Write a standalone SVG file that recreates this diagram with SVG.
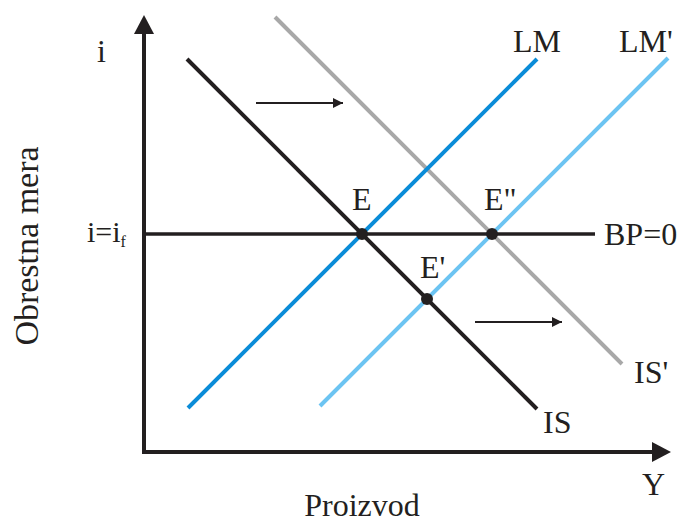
<svg xmlns="http://www.w3.org/2000/svg" width="683" height="523" viewBox="0 0 683 523">
<style>
.lbl { font-size: 32px; }
.crv { fill: none; stroke-width: 4; stroke-linecap: butt; }
.axis { stroke: #231f20; stroke-width: 4; fill: none; }
.shift { stroke: #231f20; stroke-width: 2; fill: none; }
.dot { fill: #231f20; }
</style>
<defs>
<marker id="ah" markerWidth="10" markerHeight="10" refX="10" refY="5" orient="auto" markerUnits="userSpaceOnUse">
<path d="M0,0 L10,5 L0,10 Z" fill="#231f20"/>
</marker>
</defs>
<rect width="683" height="523" fill="#ffffff"/>
<g id="connectors">
<line id="y-axis" class="axis" x1="144" y1="454" x2="144" y2="30"/>
<path d="M144,15 L134,34 L154,34 Z" fill="#231f20"/>
<line id="x-axis" class="axis" x1="142" y1="452" x2="656" y2="452"/>
<path d="M671,452 L652,442 L652,462 Z" fill="#231f20"/>
<line id="BP" x1="144" y1="234" x2="595" y2="234" stroke="#231f20" stroke-width="3.5"/>
<line id="ISp" class="crv" stroke="#a8a8a8" x1="275" y1="17" x2="622" y2="364"/>
<line id="LM" class="crv" stroke="#0a8cd8" x1="188" y1="408" x2="537" y2="59"/>
<line id="LMp" class="crv" stroke="#6cc4f2" x1="320" y1="406" x2="668" y2="58"/>
<line id="IS" class="crv" stroke="#231f20" x1="187" y1="59" x2="537" y2="409"/>
<line class="shift" x1="256" y1="103" x2="343" y2="103" marker-end="url(#ah)"/>
<line class="shift" x1="475" y1="322" x2="562" y2="322" marker-end="url(#ah)"/>
</g>
<g font-family="'Liberation Serif', 'DejaVu Serif', serif" fill="#231f20">
<g id="E"><circle class="dot" cx="362" cy="234" r="6"/><text class="lbl" x="352" y="210">E</text></g>
<g id="E2"><circle class="dot" cx="492" cy="234" r="6"/><text class="lbl" x="484" y="210">E"</text></g>
<g id="E1"><circle class="dot" cx="427" cy="299" r="6"/><text class="lbl" x="420" y="278">E'</text></g>
<g id="labels">
<text class="lbl" x="97" y="62">i</text>
<text class="lbl" x="513" y="52">LM</text>
<text class="lbl" x="619" y="52">LM'</text>
<text class="lbl" x="604" y="245">BP=0</text>
<text x="87" y="242" font-size="30">i=i<tspan font-size="16" dy="5">f</tspan></text>
<text class="lbl" x="543" y="433">IS</text>
<text class="lbl" x="634" y="383">IS'</text>
<text class="lbl" x="642" y="495">Y</text>
<text class="lbl" x="362" y="516" text-anchor="middle">Proizvod</text>
<text x="0" y="0" font-size="34" text-anchor="middle" transform="translate(38,246) rotate(-90)">Obrestna mera</text>
</g>
</g>
</svg>
